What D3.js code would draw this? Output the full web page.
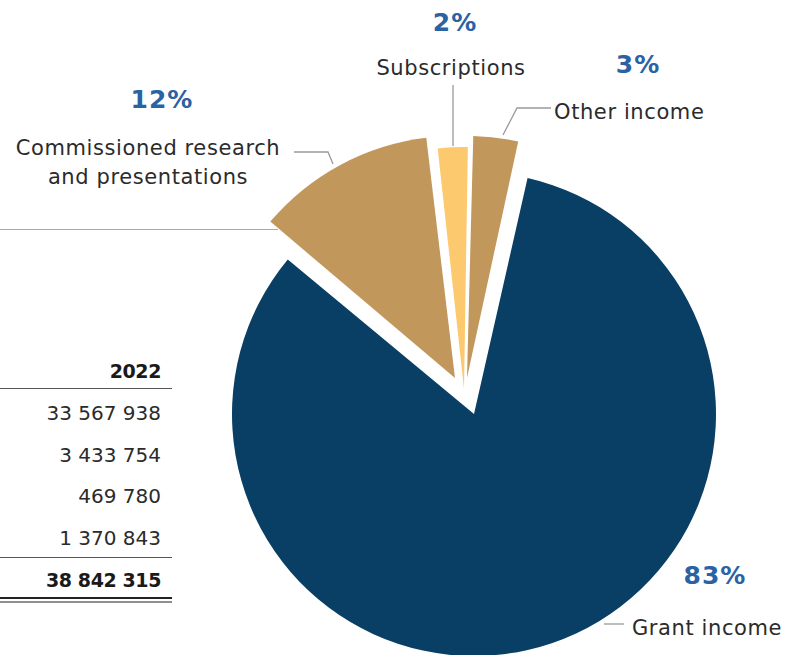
<!DOCTYPE html>
<meta charset="utf-8">
<style>
body { margin: 0; background: #fff; }
text { font-family: "DejaVu Sans", sans-serif; }
.lbl { font-size: 21px; fill: #2b2b2b; letter-spacing: 0.6px; }
.pct { font-size: 25px; font-weight: 700; fill: #2b62a4; letter-spacing: 1px; }
.cell { font-size: 20px; fill: #2b2b2b; text-anchor: end; }
.bold { font-weight: 700; fill: #1a1a1a; font-size: 19px; letter-spacing: -0.4px; }
</style>
<svg width="800" height="655"></svg>
<script src="https://d3js.org/d3.v7.min.js"></script>
<script>

// pie data (clockwise from 12 o'clock)
var categories = ["Other income", "Grant income", "Commissioned research and presentations", "Subscriptions"];
var shares = [3, 83, 12, 2];

// table column
var tableYear = "2022";
var tableValues = [33567938, 3433754, 469780, 1370843];

var svg = d3.select("svg"),
	width = +svg.attr("width"),
	height = +svg.attr("height");

var cx = 474, cy = 414, radius = 242;

var color = d3.scaleOrdinal()
	.domain(categories)
	.range(["#c1975b", "#093f64", "#c1975b", "#fdc96f"]);

// pulled-out slices: offset of each slice from the pie centre
var explode = d3.scaleOrdinal()
	.domain(categories)
	.range([[-7, -36], [0, 0], [-19, -36], [-10, -25]]);

var start = 1.2 * Math.PI / 180;
var pie = d3.pie()
	.sort(null)
	.startAngle(start)
	.endAngle(start + 2 * Math.PI)
	.padAngle(0.01);

var arc = d3.arc().innerRadius(0).outerRadius(radius);

var arcs = pie(shares).map(function(d, i) { d.name = categories[i]; return d; });

svg.append("g")
	.attr("transform", "translate(" + cx + "," + cy + ")")
  .selectAll("path")
  .data(arcs)
  .enter().append("path")
	.attr("d", arc)
	.attr("fill", function(d) { return color(d.name); })
	.attr("transform", function(d) { return "translate(" + explode(d.name) + ")"; });

// labels and leader lines
var labels = [
	{name: "Subscriptions", lines: ["Subscriptions"], x: 451, y: 75, pct: [455, 31], anchor: "middle",
	 leader: [[453, 85], [453, 146]]},
	{name: "Other income", lines: ["Other income"], x: 554, y: 119, pct: [638, 73], anchor: "start",
	 leader: [[551, 108], [517, 108], [503, 135]]},
	{name: "Commissioned research and presentations", lines: ["Commissioned research", "and presentations"],
	 x: 148, y: 155, pct: [162, 108], anchor: "middle",
	 leader: [[294, 152], [328, 152], [333, 164]]},
	{name: "Grant income", lines: ["Grant income"], x: 632, y: 635, pct: [715, 584], anchor: "start",
	 leader: [[604, 624], [624, 624]]}
];

var line = d3.line();

labels.forEach(function(l) {
	var i = categories.indexOf(l.name);
	svg.append("path")
		.attr("d", line(l.leader))
		.attr("fill", "none")
		.attr("stroke", "#9a9a9a")
		.attr("stroke-width", 1.3);
	var t = svg.append("text")
		.attr("class", "lbl")
		.attr("text-anchor", l.anchor)
		.attr("x", l.x)
		.attr("y", l.y);
	l.lines.forEach(function(s, j) {
		t.append("tspan").attr("x", l.x).attr("dy", j ? 28.5 : 0).text(s);
	});
	svg.append("text")
		.attr("class", "pct")
		.attr("text-anchor", "middle")
		.attr("x", l.pct[0])
		.attr("y", l.pct[1])
		.text(shares[i] + "%");
});

// rule from the table above (cut off)
svg.append("line")
	.attr("x1", 0).attr("x2", 278)
	.attr("y1", 229.5).attr("y2", 229.5)
	.attr("stroke", "#c9a46e").attr("stroke-width", 1.2);

// table
var fmt = d3.formatLocale({decimal: ",", thousands: " ", grouping: [3], currency: ["", ""]}).format(",d");
var total = d3.sum(tableValues);
var colX = 161;

var rowY = d3.scalePoint()
	.domain(d3.range(tableValues.length))
	.range([420, 545]);

svg.append("text")
	.attr("class", "cell bold")
	.attr("x", colX).attr("y", 378)
	.text(tableYear);

svg.append("line")
	.attr("x1", 0).attr("x2", 172).attr("y1", 388.5).attr("y2", 388.5)
	.attr("stroke", "#555").attr("stroke-width", 1.2);

svg.selectAll("text.row")
  .data(tableValues)
  .enter().append("text")
	.attr("class", "cell row")
	.attr("x", colX)
	.attr("y", function(d, i) { return rowY(i); })
	.text(function(d) { return fmt(d); });

svg.append("line")
	.attr("x1", 0).attr("x2", 172).attr("y1", 557.5).attr("y2", 557.5)
	.attr("stroke", "#555").attr("stroke-width", 1.2);

svg.append("text")
	.attr("class", "cell bold")
	.attr("x", colX).attr("y", 587)
	.text(fmt(total));

svg.append("line")
	.attr("x1", 0).attr("x2", 172).attr("y1", 598).attr("y2", 598)
	.attr("stroke", "#222").attr("stroke-width", 2.2);
svg.append("line")
	.attr("x1", 0).attr("x2", 172).attr("y1", 602).attr("y2", 602)
	.attr("stroke", "#222").attr("stroke-width", 1.2);

</script>
